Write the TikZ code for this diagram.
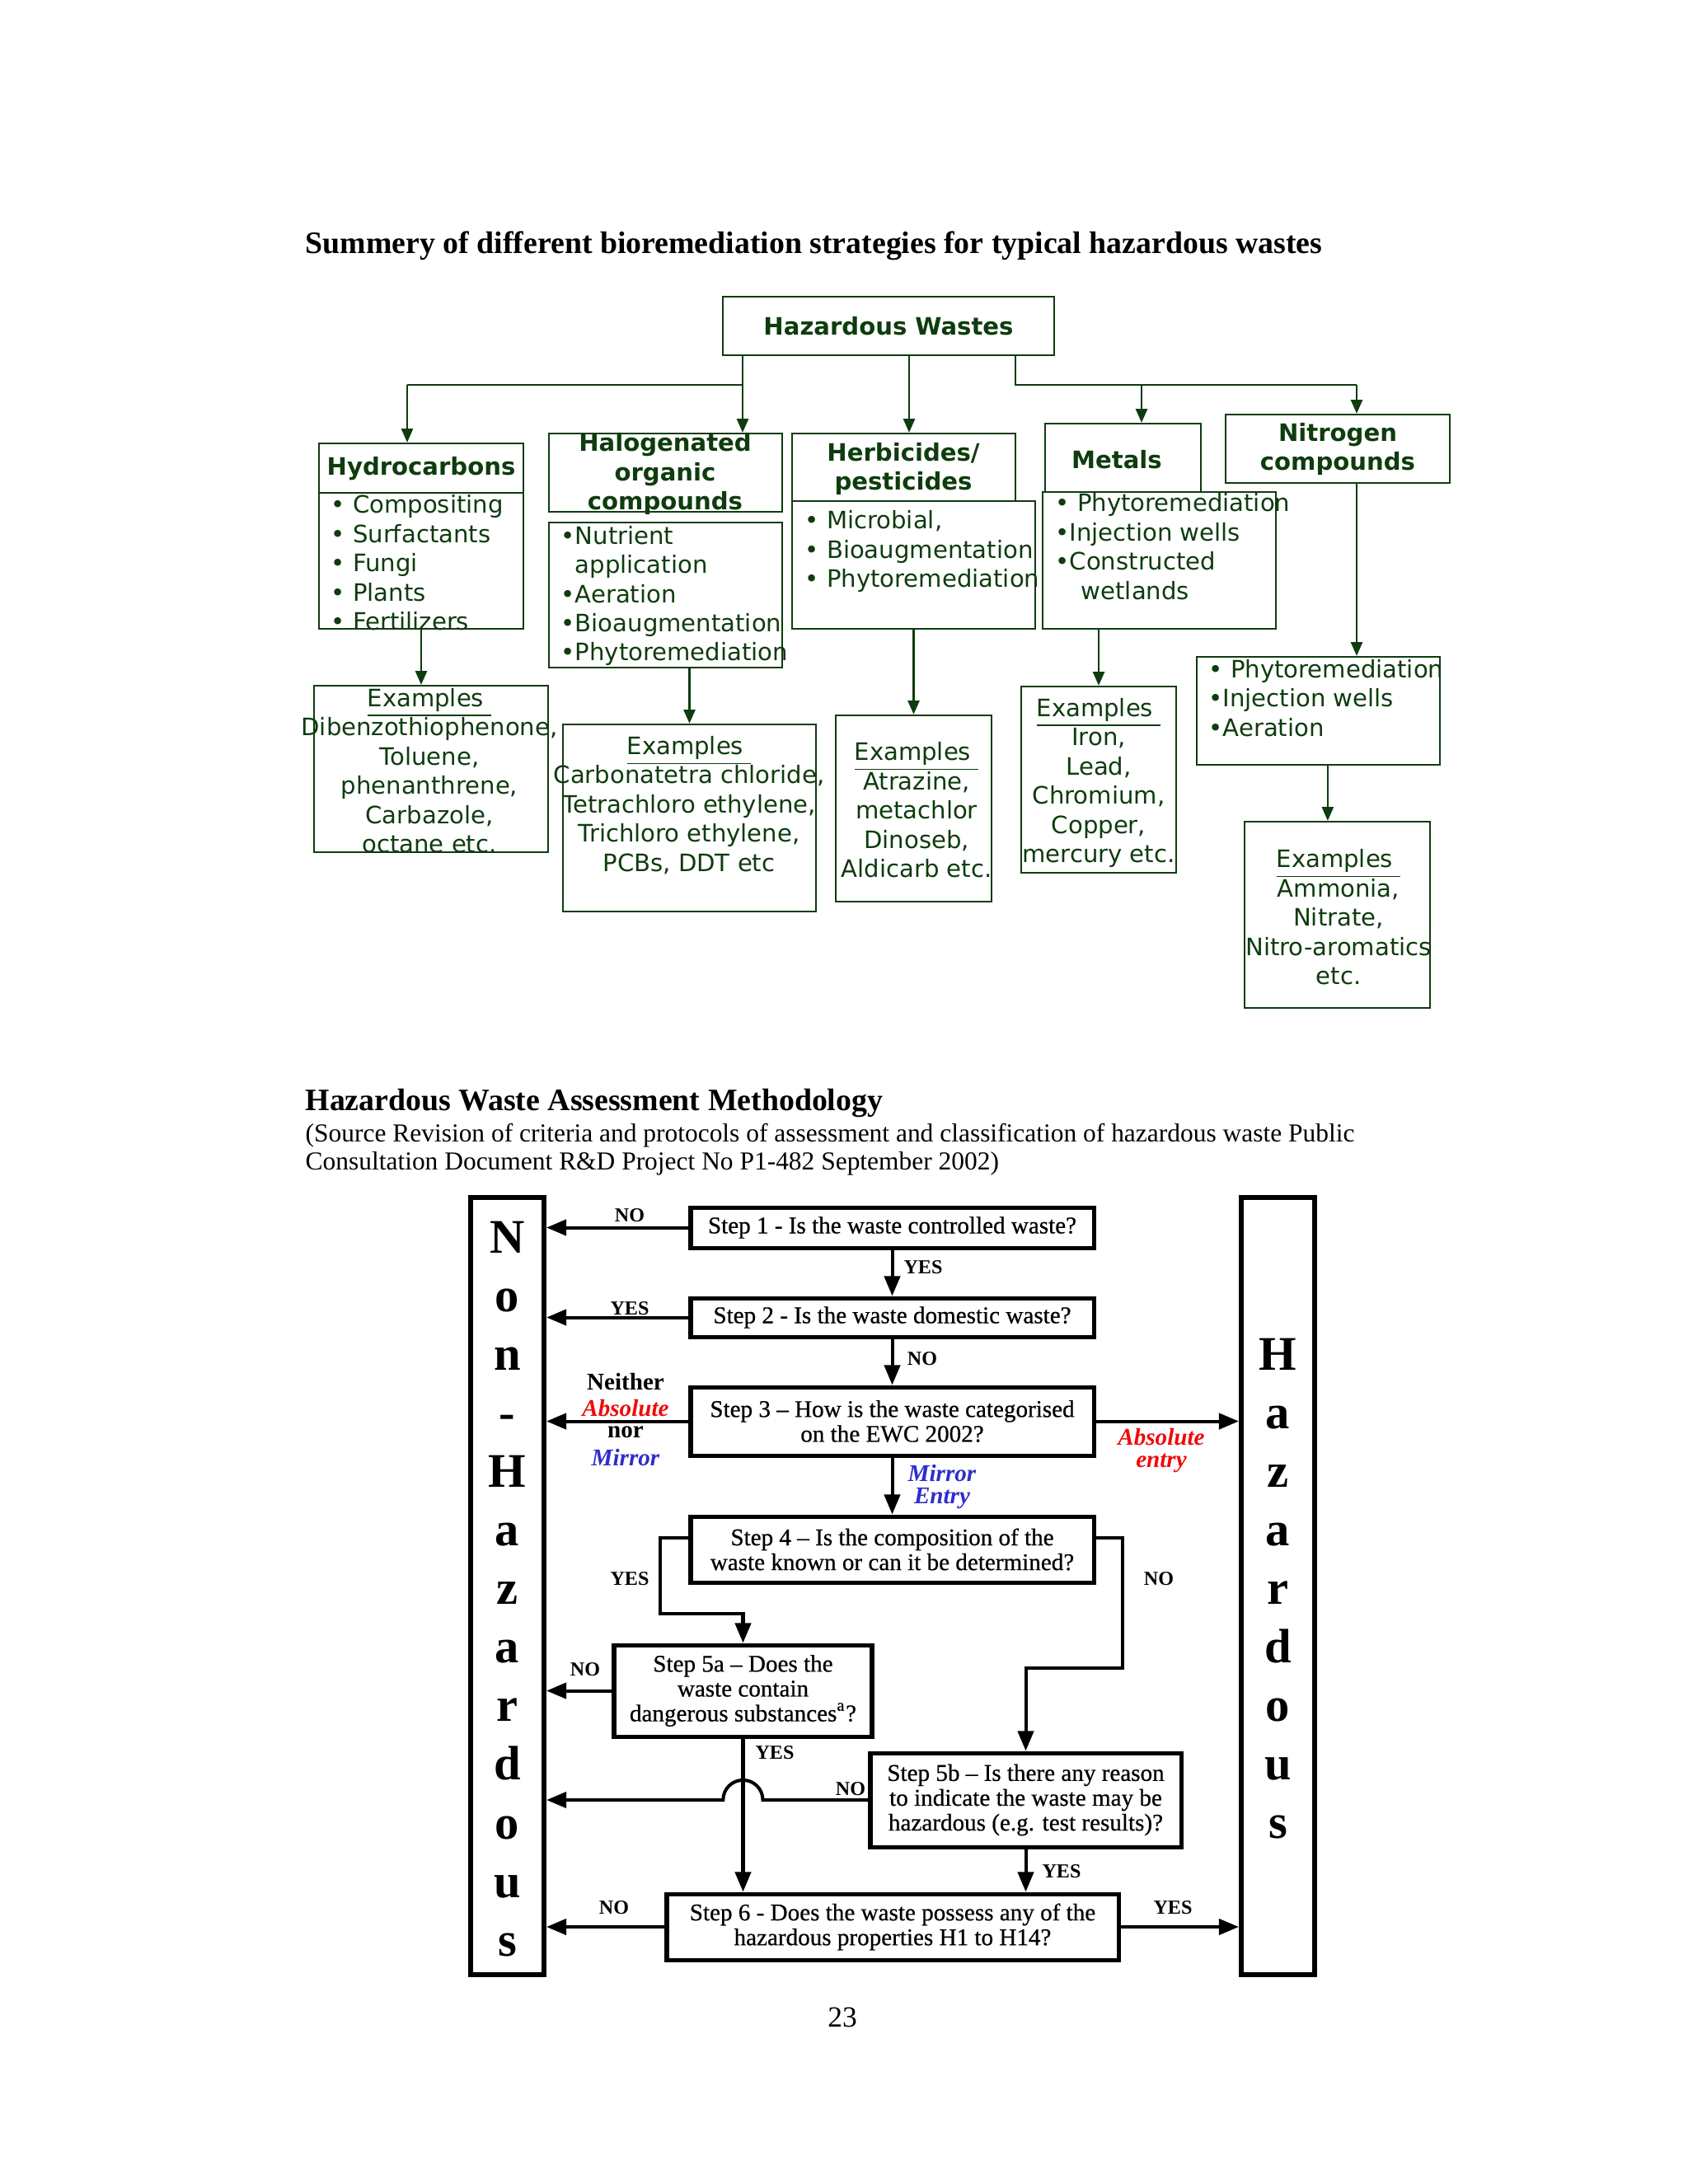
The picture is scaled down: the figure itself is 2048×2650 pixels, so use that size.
\documentclass[tikz,border=0pt]{standalone}
\usepackage{fontspec}
\setmainfont{Liberation Serif}
\newfontfamily\verd{DejaVu Sans}
\newfontfamily\stepfont{Liberation Serif}[FakeBold=0.6]
\usetikzlibrary{arrows.meta,fit}
\definecolor{dkgreen}{RGB}{14,60,14}
\definecolor{absred}{RGB}{240,10,10}
\definecolor{mirblue}{RGB}{45,45,205}
\tikzset{
  tbox/.style={draw=dkgreen, line width=0.7pt, inner sep=0pt},
  ttext/.style={text=dkgreen, font=\verd\fontsize{8.7}{10.6}\selectfont, inner sep=0pt, align=center},
  thead/.style={ttext, font=\verd\bfseries\fontsize{8.7}{10.6}\selectfont},
  tlist/.style={ttext, align=left, anchor=west},
  tline/.style={draw=dkgreen, line width=0.7pt},
  tarr/.style={tline, -{Triangle[length=5pt,width=4.2pt]}},
  stepbox/.style={draw, line width=1.5pt, inner sep=0pt},
  steptext/.style={inner sep=0pt, align=center, font=\stepfont\fontsize{8.7}{9}\selectfont},
  sidebox/.style={draw, line width=1.8pt, inner sep=0pt},
  sideletter/.style={font=\bfseries\fontsize{17.5}{17.5}\selectfont, inner sep=0pt, anchor=base},
  arr/.style={line width=1.2pt, -{Triangle[length=7.2pt,width=5.7pt]}},
  lab/.style={font=\bfseries\fontsize{7.2}{8}\selectfont, inner sep=0pt},
  lab2/.style={font=\bfseries\fontsize{8.7}{9}\selectfont, inner sep=0pt}
}
\begin{document}
\begin{tikzpicture}[x=0.29883pt,y=-0.29883pt]
\fill[white] (0,0) rectangle (2048,2650);
\useasboundingbox (0,0) rectangle (2048,2650);

% bioremediation strategies
\node[anchor=base west, inner sep=0pt, font=\bfseries\fontsize{11.3}{13}\selectfont] (title) at (370,307) {Summery of different bioremediation strategies for typical hazardous wastes};

\node[tbox, fit={(877,360) (1279,431)}] (hw) {};
\node[thead] (hwt) at (hw.center) {Hazardous Wastes};

\node[tbox, fit={(387,538) (635,598)}] (hydro) {};
\node[tbox, fit={(387,598) (635,763)}] (hydrolist) {};
\node[tbox, fit={(381,832) (665,1034)}] (hydroex) {};
\node[thead] (hydrot) at (511,569) {Hydrocarbons};
\node[tlist] (hydrolistt) at (401,683) {• Compositing\\• Surfactants\\• Fungi\\• Plants\\• Fertilizers};
\node[ttext] (hydroext) at (521,935) {\underline{Examples\ }\\Dibenzothiophenone,\\Toluene,\\phenanthrene,\\Carbazole,\\octane etc.};

\node[tbox, fit={(666,526) (949,621)}] (hal) {};
\node[tbox, fit={(666,634) (949,810)}] (hallist) {};
\node[tbox, fit={(683,879) (990,1106)}] (halex) {};
\node[thead] (halt) at (807,575) {Halogenated\\organic\\compounds};
\node[tlist] (hallistt) at (680,723) {•Nutrient\\\hphantom{•}application\\•Aeration\\•Bioaugmentation\\•Phytoremediation};
\node[ttext] (halext) at (836,977) {\underline{Examples\ }\\Carbonatetra chloride,\\Tetrachloro ethylene,\\Trichloro ethylene,\\PCBs, DDT etc};

\node[tbox, fit={(961,526) (1232,608)}] (herb) {};
\node[tbox, fit={(961,608) (1256,763)}] (herblist) {};
\node[tbox, fit={(1014,868) (1203,1094)}] (herbex) {};
\node[thead] (herbt) at (1096,569) {Herbicides/\\pesticides};
\node[tlist] (herblistt) at (976,669) {• Microbial,\\• Bioaugmentation\\• Phytoremediation};
\node[ttext] (herbext) at (1112,983) {\underline{Examples\ }\\Atrazine,\\metachlor\\Dinoseb,\\Aldicarb etc.};

\node[tbox, fit={(1268,514) (1457,597)}] (met) {};
\node[tbox, fit={(1265,597) (1548,763)}] (metlist) {};
\node[tbox, fit={(1239,833) (1427,1059)}] (metex) {};
\node[thead] (mett) at (1355,558) {Metals};
\node[tlist] (metlistt) at (1280,663) {• Phytoremediation\\•Injection wells\\•Constructed\\\hspace*{9.3pt}wetlands};
\node[ttext] (metext) at (1333,950) {\underline{Examples\ }\\Iron,\\Lead,\\Chromium,\\Copper,\\mercury etc.};

\node[tbox, fit={(1487,503) (1759,586)}] (nit) {};
\node[tbox, fit={(1452,797) (1747,928)}] (nitlist) {};
\node[tbox, fit={(1510,997) (1735,1223)}] (nitex) {};
\node[thead] (nitt) at (1623,545) {Nitrogen\\compounds};
\node[tlist] (nitlistt) at (1466,847) {• Phytoremediation\\•Injection wells\\•Aeration};
\node[ttext] (nitext) at (1624,1113) {\underline{Examples\ }\\Ammonia,\\Nitrate,\\Nitro-aromatics\\etc.};

\coordinate (c1) at (494,467);
\coordinate (jl) at (901,467);
\coordinate (c3) at (1103,467);
\coordinate (jr) at (1232,467);
\coordinate (c4) at (1385,467);
\coordinate (c5) at (1646,467);
\draw[tline] (jl |- hw.south) -- (jl) -- (c1);
\draw[tarr] (c1) -- (c1 |- hydro.north);
\draw[tarr] (jl) -- (jl |- hal.north);
\draw[tarr] (c3 |- hw.south) -- (c3 |- herb.north);
\draw[tline] (jr |- hw.south) -- (jr) -- (c5);
\draw[tarr] (c4) -- (c4 |- met.north);
\draw[tarr] (c5) -- (c5 |- nit.north);
\draw[tarr] (hydrolist.south) -- (hydrolist.south |- hydroex.north);
\draw[tarr] (hallist.south -| halex.north) -- (halex.north);
\draw[tarr] (herblist.south) -- (herblist.south |- herbex.north);
\draw[tarr] (metex.north |- metlist.south) -- (metex.north);
\draw[tarr] (c5 |- nit.south) -- (c5 |- nitlist.north);
\draw[tarr] ([xshift=3.4pt]nitlist.south) -- ([xshift=3.4pt]nitlist.south |- nitex.north);

% assessment methodology
\node[anchor=base west, inner sep=0pt, font=\bfseries\fontsize{11.3}{13}\selectfont] (title2) at (370,1347) {Hazardous Waste Assessment Methodology};
\node[anchor=base west, inner sep=0pt, font=\fontsize{9.4}{11}\selectfont] (src1) at (370,1385) {(Source Revision of criteria and protocols of assessment and classification of hazardous waste Public};
\node[anchor=base west, inner sep=0pt, font=\fontsize{9.4}{11}\selectfont] (src2) at (370,1419) {Consultation Document R\&D Project No P1-482 September 2002)};

\node[sidebox, fit={(571,1453) (660,2396)}] (nonhaz) {};
\node[sidebox, fit={(1506,1453) (1595,2396)}] (haz) {};
\foreach \c [count=\i from 0] in {N,o,n,-,H,a,z,a,r,d,o,u,s}
  \node[sideletter] (nl\i) at ({615.5},{1520+71.1*\i}) {\c};
\foreach \c [count=\i from 0] in {H,a,z,a,r,d,o,u,s}
  \node[sideletter] (hl\i) at ({1550.5},{1662+71.1*\i}) {\c};

\node[stepbox, fit={(838,1465) (1327,1514)}] (step1) {};
\node[stepbox, fit={(838,1575) (1327,1622)}] (step2) {};
\node[stepbox, fit={(838,1683) (1327,1766)}] (step3) {};
\node[stepbox, fit={(838,1840) (1327,1920)}] (step4) {};
\node[stepbox, fit={(745,1996) (1058,2107)}] (s5a) {};
\node[stepbox, fit={(1056,2127) (1433,2241)}] (s5b) {};
\node[stepbox, fit={(809,2298) (1357,2378)}] (step6) {};
\node[steptext] (step1t) at (step1.center) {Step 1 - Is the waste controlled waste?};
\node[steptext] (step2t) at (step2.center) {Step 2 - Is the waste domestic waste?};
\node[steptext] (step3t) at (step3.center) {Step 3 – How is the waste categorised\\on the EWC 2002?};
\node[steptext] (step4t) at (step4.center) {Step 4 – Is the composition of the\\waste known or can it be determined?};
\node[steptext] (s5at) at (s5a.center) {Step 5a – Does the\\waste contain\\dangerous substances\textsuperscript{a}?};
\node[steptext] (s5bt) at (s5b.center) {Step 5b – Is there any reason\\to indicate the waste may be\\hazardous (e.g. test results)?};
\node[steptext] (step6t) at (step6.center) {Step 6 - Does the waste possess any of the\\hazardous properties H1 to H14?};

\draw[arr] (step1.west) -- (step1.west -| nonhaz.east);
\draw[arr] (step1.south) -- (step2.north);
\draw[arr] (step2.west) -- (step2.west -| nonhaz.east);
\draw[arr] (step2.south) -- (step3.north);
\draw[arr] (step3.west) -- (step3.west -| nonhaz.east);
\draw[arr] (step3.east) -- (step3.east -| haz.west);
\draw[arr] (step3.south) -- (step4.north);
\draw[arr] ([yshift=4.2pt]step4.west) -| (801,1958) -| (s5a.north);
\draw[arr] ([yshift=4.2pt]step4.east) -| (1362,2024) -| (s5b.north);
\draw[arr] (s5a.west) -- (s5a.west -| nonhaz.east);
\draw[arr] (s5a.south) -- (s5a.south |- step6.north);
\draw[arr] (s5b.west) -- (925.5,2184) arc[start angle=0, end angle=180, radius=7.2pt] -- (s5b.west -| nonhaz.east);
\draw[arr] (s5b.south) -- (s5b.south |- step6.north);
\draw[arr] (step6.west) -- (step6.west -| nonhaz.east);
\draw[arr] (step6.east) -- (step6.east -| haz.west);

\node[lab] (l1) at (764,1475) {NO};
\node[lab] (l2) at (1120,1538) {YES};
\node[lab] (l3) at (764,1588) {YES};
\node[lab] (l4) at (1119,1649) {NO};
\node[lab2] (l5) at (759,1677) {Neither};
\node[lab2, text=absred] (l6) at (759,1709) {\itshape Absolute};
\node[lab2] (l7) at (759,1738) {nor};
\node[lab2, text=mirblue] (l8) at (759,1769) {\itshape Mirror};
\node[lab2, text=absred] (l9) at (1409,1744) {\itshape Absolute};
\node[lab2, text=absred] (l10) at (1409,1775) {\itshape entry};
\node[lab2, text=mirblue] (l11) at (1143,1788) {\itshape Mirror};
\node[lab2, text=mirblue] (l12) at (1143,1818) {\itshape Entry};
\node[lab] (l13) at (764,1916) {YES};
\node[lab] (l14) at (1406,1916) {NO};
\node[lab] (l15) at (710,2026) {NO};
\node[lab] (l16) at (940,2127) {YES};
\node[lab] (l17) at (1032,2171) {NO};
\node[lab] (l18) at (1288,2271) {YES};
\node[lab] (l19) at (745,2315) {NO};
\node[lab] (l20) at (1423,2315) {YES};

\node[anchor=base, inner sep=0pt, font=\fontsize{10.6}{12}\selectfont] (pg) at (1022,2459) {23};
\end{tikzpicture}
\end{document}
